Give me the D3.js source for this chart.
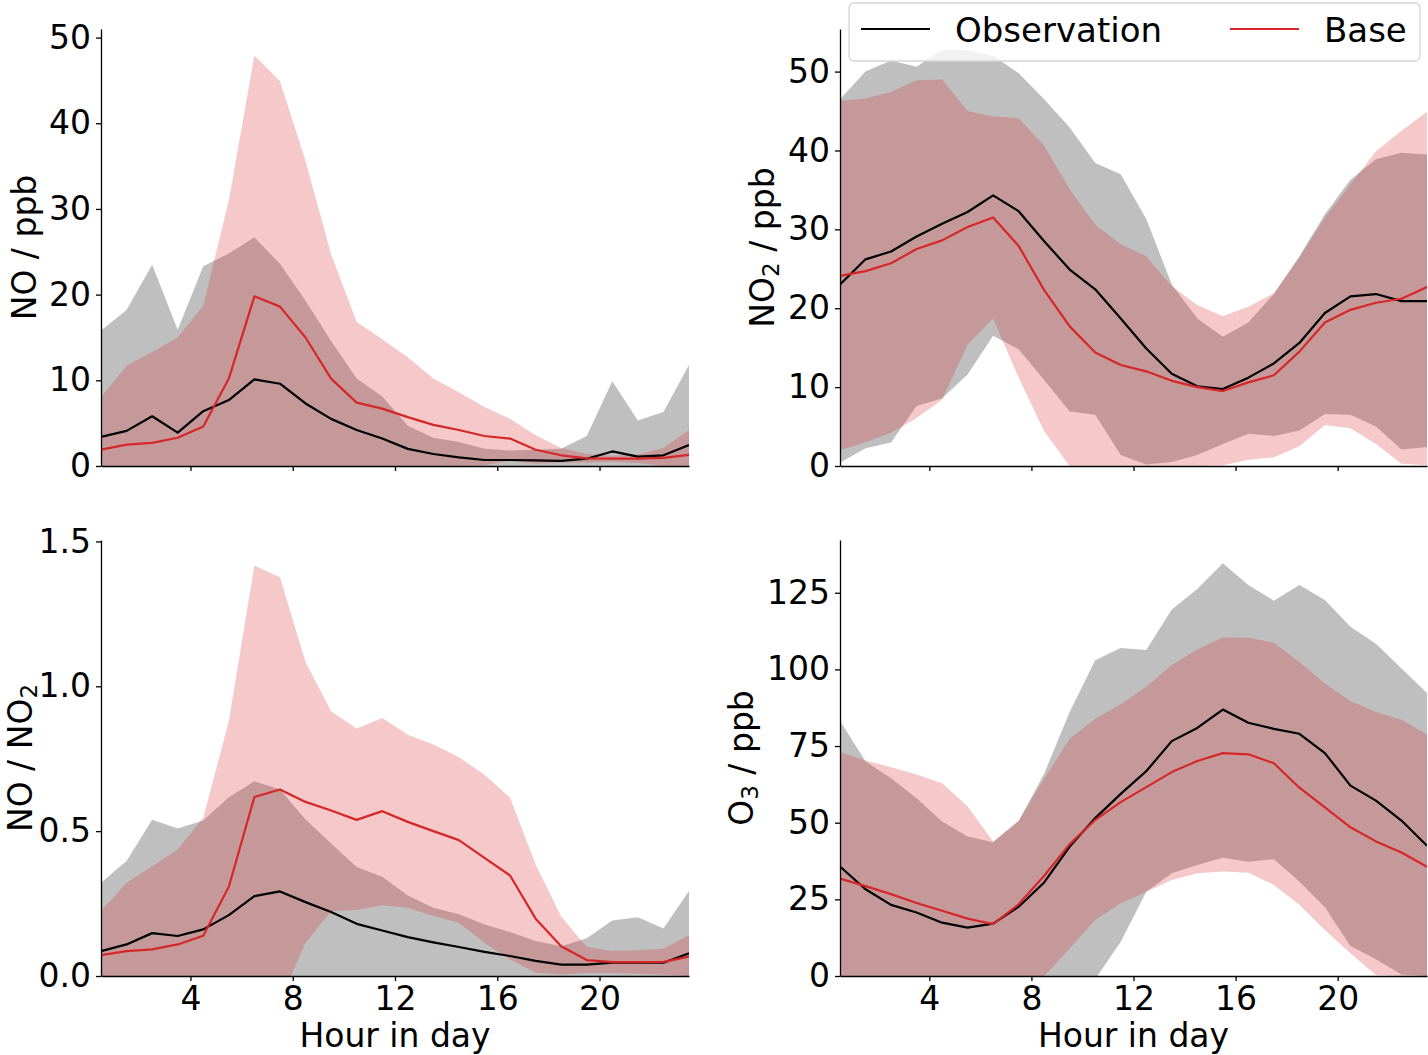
<!DOCTYPE html>
<html>
<head>
<meta charset="utf-8">
<script src="https://cdn.jsdelivr.net/npm/d3@7"></script>
<style>
    body { margin: 0; background: #fff; }
    svg text { font-family: "DejaVu Sans", sans-serif; fill: #000; }
    .axis path, .axis line { stroke: #000; stroke-width: 1.3; }
    .axis text { font-size: 33px; }
</style>
</head>
<body>
<div id="chart"></div>
<script>
// hour of the day (centre of each hourly bin)
var hours = [0.5, 1.5, 2.5, 3.5, 4.5, 5.5, 6.5, 7.5, 8.5, 9.5, 10.5, 11.5,
             12.5, 13.5, 14.5, 15.5, 16.5, 17.5, 18.5, 19.5, 20.5, 21.5, 22.5, 23.5];
var xTicks = [4, 8, 12, 16, 20];
var seriesNames = ["Observation", "Base"];

// NO / ppb
var noObs    = [3.4, 4.1, 5.8, 3.9, 6.4, 7.7, 10.1, 9.6, 7.3, 5.5, 4.2, 3.2, 2.0, 1.4, 1.0, 0.7, 0.7, 0.65, 0.6, 0.85, 1.7, 1.1, 1.25, 2.45];
var noObsHi  = [15.8, 18.2, 23.5, 15.9, 23.3, 24.8, 26.7, 23.6, 19.3, 14.6, 10.2, 8.1, 4.7, 3.3, 2.8, 2.0, 1.8, 1.9, 2.0, 3.5, 9.9, 5.3, 6.3, 11.8];
var noObsLo  = [0, 0, 0, 0, 0, 0, 0, 0, 0, 0, 0, 0, 0, 0, 0, 0, 0, 0, 0, 0, 0, 0, 0, 0];
var noBase   = [1.9, 2.5, 2.7, 3.3, 4.6, 10.2, 19.8, 18.6, 15.0, 10.2, 7.4, 6.7, 5.7, 4.8, 4.2, 3.5, 3.2, 1.9, 1.25, 0.9, 0.85, 0.85, 0.95, 1.3];
var noBaseHi = [8.0, 11.7, 13.3, 15.0, 18.7, 31.0, 47.9, 44.9, 35.6, 24.7, 16.8, 14.8, 12.7, 10.2, 8.6, 6.9, 5.5, 3.6, 2.1, 1.4, 1.2, 1.35, 2.1, 4.2];
var noBaseLo = [0, 0, 0, 0, 0, 0, 0, 0, 0, 0, 0, 0, 0, 0, 0, 0.1, 0.6, 0.3, 0.4, 0.4, 0.5, 0.35, 0, 0];
var noTicks  = [0, 10, 20, 30, 40, 50];

// NO2 / ppb
var no2Obs    = [23.0, 26.2, 27.2, 29.1, 30.7, 32.2, 34.3, 32.3, 28.5, 24.9, 22.4, 18.7, 14.9, 11.7, 10.1, 9.75, 11.2, 13.0, 15.6, 19.4, 21.5, 21.8, 20.9, 20.9];
var no2ObsHi  = [46.5, 50.0, 51.4, 50.6, 52.8, 52.7, 52.0, 49.8, 46.5, 42.9, 38.4, 37.0, 31.3, 23.0, 18.7, 16.4, 18.2, 21.8, 26.6, 31.9, 36.3, 38.9, 39.7, 39.5];
var no2ObsLo  = [0.4, 2.25, 2.97, 7.6, 8.6, 11.6, 16.5, 14.8, 10.9, 6.9, 6.5, 1.4, 0.2, 0.5, 1.4, 2.8, 4.1, 3.8, 4.5, 6.6, 6.5, 5.0, 2.1, 2.4];
var no2Base   = [24.1, 24.7, 25.7, 27.5, 28.6, 30.3, 31.5, 27.9, 22.3, 17.7, 14.4, 12.8, 12.0, 10.8, 10.0, 9.5, 10.6, 11.5, 14.5, 18.2, 19.8, 20.7, 21.2, 22.7];
var no2BaseHi = [46.3, 46.6, 47.4, 48.9, 49.0, 45.0, 44.3, 44.1, 40.6, 35.1, 30.6, 28.1, 26.6, 22.8, 20.4, 19.0, 20.2, 21.9, 26.4, 31.5, 35.7, 39.9, 42.5, 44.9];
var no2BaseLo = [2.0, 3.0, 4.2, 6.1, 8.4, 15.4, 18.7, 11.2, 4.4, 0, 0, 0, 0, 0, 0, 0.1, 0.8, 1.1, 2.5, 5.2, 4.8, 2.8, 0.3, 0.1];
var no2Ticks  = [0, 10, 20, 30, 40, 50];

// NO / NO2 ratio
var ratioObs    = [0.086, 0.109, 0.148, 0.138, 0.161, 0.210, 0.276, 0.292, 0.255, 0.221, 0.180, 0.157, 0.134, 0.116, 0.100, 0.083, 0.069, 0.052, 0.039, 0.039, 0.046, 0.046, 0.046, 0.078];
var ratioObsHi  = [0.322, 0.397, 0.539, 0.509, 0.537, 0.617, 0.672, 0.644, 0.540, 0.457, 0.376, 0.343, 0.278, 0.236, 0.213, 0.178, 0.152, 0.121, 0.103, 0.130, 0.192, 0.203, 0.164, 0.293];
var ratioObsLo  = [0, 0, 0, 0, 0, 0, 0, 0, 0, 0, 0, 0, 0, 0, 0, 0, 0, 0, 0, 0, 0, 0, 0, 0];
var ratioBase   = [0.072, 0.086, 0.092, 0.109, 0.139, 0.308, 0.618, 0.644, 0.601, 0.571, 0.539, 0.569, 0.532, 0.500, 0.469, 0.408, 0.347, 0.198, 0.103, 0.055, 0.048, 0.048, 0.049, 0.067];
var ratioBaseHi = [0.224, 0.322, 0.379, 0.437, 0.546, 0.879, 1.417, 1.376, 1.084, 0.914, 0.854, 0.891, 0.833, 0.799, 0.755, 0.695, 0.615, 0.385, 0.205, 0.100, 0.086, 0.089, 0.094, 0.141];
var ratioBaseLo = [0, 0, 0, 0, 0, 0, 0, -0.087, 0.115, 0.224, 0.228, 0.244, 0.236, 0.207, 0.184, 0.115, 0.057, 0.011, 0.005, 0.01, 0.01, 0.008, 0.005, 0];
var ratioTicks  = [0.0, 0.5, 1.0, 1.5];

// O3 / ppb
var o3Obs    = [35.7, 28.3, 23.2, 20.7, 17.4, 15.8, 17.1, 22.6, 30.5, 42.2, 51.5, 59.4, 66.8, 76.6, 80.9, 86.9, 82.6, 80.6, 79.0, 72.7, 62.1, 57.2, 50.7, 42.5];
var o3ObsHi  = [83.2, 70.0, 64.5, 58.0, 50.4, 45.5, 43.6, 50.5, 66.0, 86.1, 103.0, 107.0, 106.3, 119.5, 126.2, 134.6, 127.5, 122.4, 127.5, 122.6, 113.9, 108.4, 100.3, 92.3];
var o3ObsLo  = [0, 0, 0, 0, 0, 0, 0, 0, 0, 0, -1, 11.2, 27.5, 33.5, 36.2, 38.6, 37.3, 38.1, 30.8, 22.4, 9.8, 5.5, 0.5, 0];
var o3Base   = [31.8, 29.3, 26.7, 23.8, 21.3, 18.7, 16.9, 23.4, 32.7, 43.0, 50.9, 56.7, 61.6, 66.5, 70.1, 72.7, 72.3, 69.4, 61.4, 55.0, 48.5, 43.9, 40.3, 35.6];
var o3BaseHi = [73.0, 70.3, 68.1, 65.7, 62.9, 55.3, 43.9, 50.7, 64.3, 77.4, 83.9, 88.6, 94.3, 101.4, 106.5, 110.4, 110.3, 108.7, 102.4, 95.4, 89.7, 86.1, 83.6, 78.8];
var o3BaseLo = [0, 0, 0, 0, 0, 0, 0, 0, 0, 9.0, 18.3, 23.7, 27.5, 31.3, 33.5, 34.1, 33.7, 29.7, 23.2, 15.0, 7.4, 0.3, 0, 0];
var o3Ticks  = [0, 25, 50, 75, 100, 125];

function init() {
    var w = 1428;
    var h = 1055;
    var obsColor = "#000000";
    var baseColor = "#d62728";

    // layout of the 2x2 grid
    var cols = [{ left: 101, right: 689 }, { left: 840, right: 1427 }];
    var rows = [{ top: 29, bottom: 466 }, { top: 540, bottom: 976 }];

    var panels = [
        { col: 0, row: 0, obs: noObs, obsLo: noObsLo, obsHi: noObsHi, base: noBase, baseLo: noBaseLo, baseHi: noBaseHi,
          yMax: 51, yTicks: noTicks, fmt: d3.format("d"), labelX: 36,
          label: [["NO / ppb", false]] },
        { col: 1, row: 0, obs: no2Obs, obsLo: no2ObsLo, obsHi: no2ObsHi, base: no2Base, baseLo: no2BaseLo, baseHi: no2BaseHi,
          yMax: 55.4, yTicks: no2Ticks, fmt: d3.format("d"), labelX: 774,
          label: [["NO", false], ["2", true], [" / ppb", false]] },
        { col: 0, row: 1, obs: ratioObs, obsLo: ratioObsLo, obsHi: ratioObsHi, base: ratioBase, baseLo: ratioBaseLo, baseHi: ratioBaseHi,
          yMax: 1.505, yTicks: ratioTicks, fmt: d3.format(".1f"), labelX: 32,
          label: [["NO / NO", false], ["2", true]] },
        { col: 1, row: 1, obs: o3Obs, obsLo: o3ObsLo, obsHi: o3ObsHi, base: o3Base, baseLo: o3BaseLo, baseHi: o3BaseHi,
          yMax: 142.2, yTicks: o3Ticks, fmt: d3.format("d"), labelX: 753,
          label: [["O", false], ["3", true], [" / ppb", false]] }
    ];

    var svg = d3.select("#chart")
        .append("svg")
        .attr("width", w)
        .attr("height", h);

    panels.forEach(function(p, i) {
        var c = cols[p.col];
        var r = rows[p.row];

        var xScale = d3.scaleLinear()
            .domain([0.5, 23.5])
            .range([c.left, c.right]);

        var yScale = d3.scaleLinear()
            .domain([0, p.yMax])
            .range([r.bottom, r.top]);

        svg.append("clipPath")
            .attr("id", "clip" + i)
            .append("rect")
            .attr("x", c.left)
            .attr("y", r.top)
            .attr("width", c.right - c.left)
            .attr("height", r.bottom - r.top);

        var plot = svg.append("g").attr("clip-path", "url(#clip" + i + ")");

        // shaded spread bands
        function band(lo, hi) {
            return d3.area()
                .x(function(d, j) { return xScale(hours[j]); })
                .y0(function(d, j) { return yScale(lo[j]); })
                .y1(function(d, j) { return yScale(hi[j]); });
        }

        var line = d3.line()
            .x(function(d, j) { return xScale(hours[j]); })
            .y(function(d) { return yScale(d); });

        plot.append("path")
            .datum(hours)
            .attr("d", band(p.obsLo, p.obsHi))
            .attr("fill", "#808080")
            .attr("fill-opacity", 0.5);

        plot.append("path")
            .datum(hours)
            .attr("d", band(p.baseLo, p.baseHi))
            .attr("fill", baseColor)
            .attr("fill-opacity", 0.25);

        plot.append("path")
            .datum(p.obs)
            .attr("d", line)
            .attr("fill", "none")
            .attr("stroke", obsColor)
            .attr("stroke-width", 2.2)
            .attr("stroke-linejoin", "round");

        plot.append("path")
            .datum(p.base)
            .attr("d", line)
            .attr("fill", "none")
            .attr("stroke", baseColor)
            .attr("stroke-width", 2.2)
            .attr("stroke-linejoin", "round");

        // axes (only left and bottom spines)
        var xAxis = d3.axisBottom(xScale)
            .tickValues(xTicks)
            .tickSize(5)
            .tickSizeOuter(0)
            .tickPadding(6);
        if (p.row === 0) xAxis.tickFormat("");

        var yAxis = d3.axisLeft(yScale)
            .tickValues(p.yTicks)
            .tickFormat(p.fmt)
            .tickSize(5)
            .tickSizeOuter(0)
            .tickPadding(5);

        svg.append("g")
            .attr("class", "axis")
            .attr("transform", "translate(0," + r.bottom + ")")
            .call(xAxis);

        svg.append("g")
            .attr("class", "axis")
            .attr("transform", "translate(" + c.left + ",0)")
            .call(yAxis);

        if (p.row === 1) {
            svg.append("text")
                .attr("x", (c.left + c.right) / 2)
                .attr("y", 1047)
                .attr("text-anchor", "middle")
                .style("font-size", "33px")
                .text("Hour in day");
        }

        // y label with subscripts
        var yMid = (r.top + r.bottom) / 2;
        var lab = svg.append("text")
            .attr("transform", "translate(" + p.labelX + "," + yMid + ") rotate(-90)")
            .attr("text-anchor", "middle")
            .style("font-size", "33px");
        var shifted = false;
        p.label.forEach(function(part) {
            var t = lab.append("tspan").text(part[0]);
            if (part[1]) {
                t.style("font-size", "23px").attr("dy", 5);
                shifted = true;
            } else if (shifted) {
                t.attr("dy", -5);
                shifted = false;
            }
        });
    });

    // legend (top right panel)
    var legend = svg.append("g");
    legend.append("rect")
        .attr("x", 849)
        .attr("y", 3)
        .attr("width", 571)
        .attr("height", 58)
        .attr("rx", 5)
        .attr("fill", "#fff")
        .attr("fill-opacity", 0.8)
        .attr("stroke", "#d6d6d6")
        .attr("stroke-width", 1.3);

    var legendX = [861, 1230];
    var legendColors = [obsColor, baseColor];
    seriesNames.forEach(function(name, i) {
        legend.append("line")
            .attr("x1", legendX[i])
            .attr("x2", legendX[i] + 69)
            .attr("y1", 29)
            .attr("y2", 29)
            .attr("stroke", legendColors[i])
            .attr("stroke-width", 2.2);
        legend.append("text")
            .attr("x", legendX[i] + 94)
            .attr("y", 41.5)
            .style("font-size", "34px")
            .text(name);
    });
}

window.onload = init;
</script>
</body>
</html>
